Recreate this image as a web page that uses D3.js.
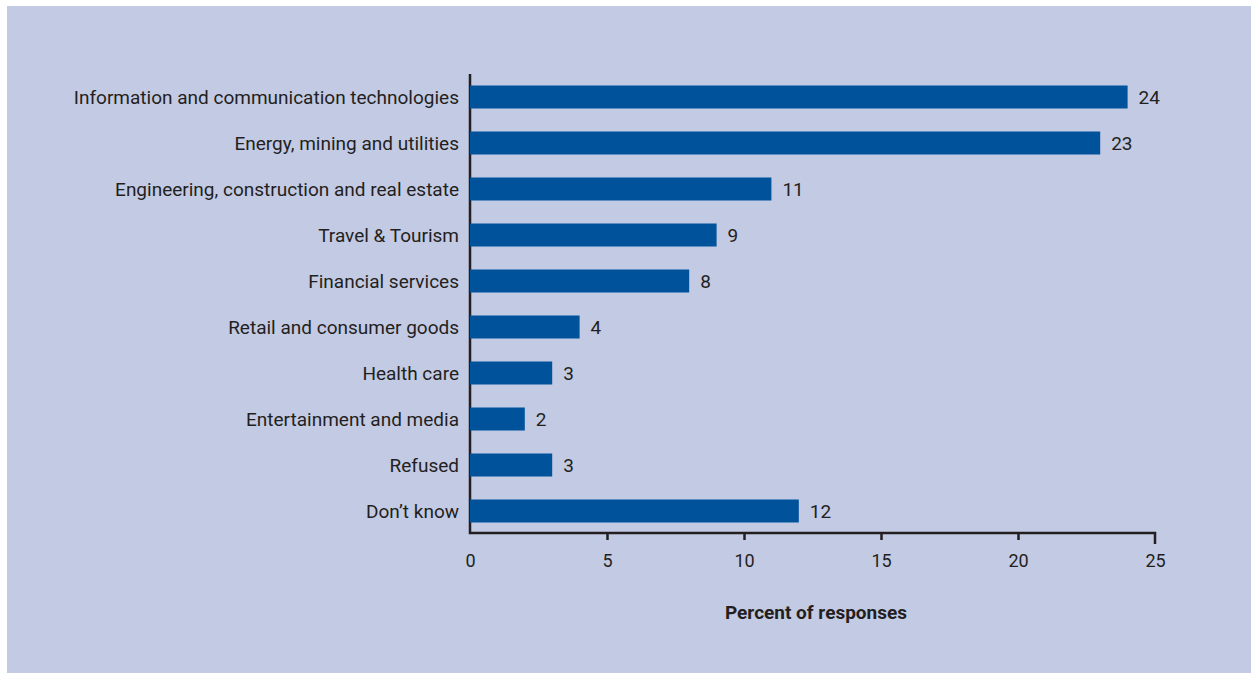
<!DOCTYPE html>
<html>
<head>
    <meta charset="UTF-8">
    <title>Percent of responses by sector</title>
    <script src="https://d3js.org/d3.v7.min.js"></script>
    <style>
        body { margin: 0; padding: 0; background: #fff; }
        svg text { font-family: "Liberation Sans Narrow", "Roboto", "DejaVu Sans Condensed", sans-serif; fill: #231f20; }
    </style>
</head>
<body>
    <svg id="chart" width="1251" height="673"></svg>
    <script>
        // 数据
        const categories = [
            "Information and communication technologies",
            "Energy, mining and utilities",
            "Engineering, construction and real estate",
            "Travel & Tourism",
            "Financial services",
            "Retail and consumer goods",
            "Health care",
            "Entertainment and media",
            "Refused",
            "Don\u2019t know"
        ];
        const values = [24, 23, 11, 9, 8, 4, 3, 2, 3, 12];
        const xTicks = [0, 5, 10, 15, 20, 25];
        const xTitle = "Percent of responses";

        const svg = d3.select("#chart");

        // 背景
        svg.append("rect")
            .attr("x", 7).attr("y", 6)
            .attr("width", 1251 - 7).attr("height", 673 - 6)
            .attr("fill", "#c3cae4");

        const margin = { left: 470, right: 1155, top: 74, bottom: 533 };

        const x = d3.scaleLinear().domain([0, 25]).range([margin.left, margin.right]);
        const y = d3.scaleBand().domain(categories).range([74, 534]).paddingInner(0.5).paddingOuter(0.25);

        const g = svg.append("g");

        // 坐标轴线
        g.append("path")
            .attr("d", `M${margin.left},${margin.top}V${margin.bottom}H${margin.right}V${margin.bottom + 11}`)
            .attr("fill", "none")
            .attr("stroke", "#231f20")
            .attr("stroke-width", 2.5);

        // x 轴刻度
        const xAxis = d3.axisBottom(x).tickValues(xTicks).tickSize(0).tickPadding(0);
        const ax = g.append("g").attr("transform", `translate(0,${margin.bottom})`).call(xAxis);
        ax.select(".domain").remove();
        ax.selectAll(".tick").append("line")
            .attr("y1", 0).attr("y2", d => (d === 0 || d === 25) ? 0 : 7)
            .attr("stroke", "#231f20").attr("stroke-width", 2.5);
        ax.selectAll(".tick text")
            .attr("y", 34)
            .attr("dy", 0)
            .style("font-size", "18px")
            .style("font-family", null)
            .attr("fill", "#231f20");

        // 条形
        g.append("g")
            .selectAll("rect")
            .data(values)
            .join("rect")
            .attr("x", x(0))
            .attr("y", (d, i) => y(categories[i]))
            .attr("width", d => x(d) - x(0))
            .attr("height", y.bandwidth())
            .attr("fill", "#00529b");

        // y 轴标签
        g.append("g")
            .selectAll("text")
            .data(categories)
            .join("text")
            .attr("x", margin.left - 11)
            .attr("y", d => y(d) + y.bandwidth() / 2)
            .attr("dy", "0.35em")
            .attr("text-anchor", "end")
            .style("font-size", "19px")
            .text(d => d);

        // 数值标签
        g.append("g")
            .selectAll("text")
            .data(values)
            .join("text")
            .attr("x", d => x(d) + 11)
            .attr("y", (d, i) => y(categories[i]) + y.bandwidth() / 2)
            .attr("dy", "0.35em")
            .style("font-size", "19px")
            .text(d => d);

        // 轴标题
        svg.append("text")
            .attr("x", 816)
            .attr("y", 612)
            .attr("dy", "0.35em")
            .attr("text-anchor", "middle")
            .style("font-size", "19px")
            .style("font-weight", "bold")
            .text(xTitle);
    </script>
</body>
</html>
